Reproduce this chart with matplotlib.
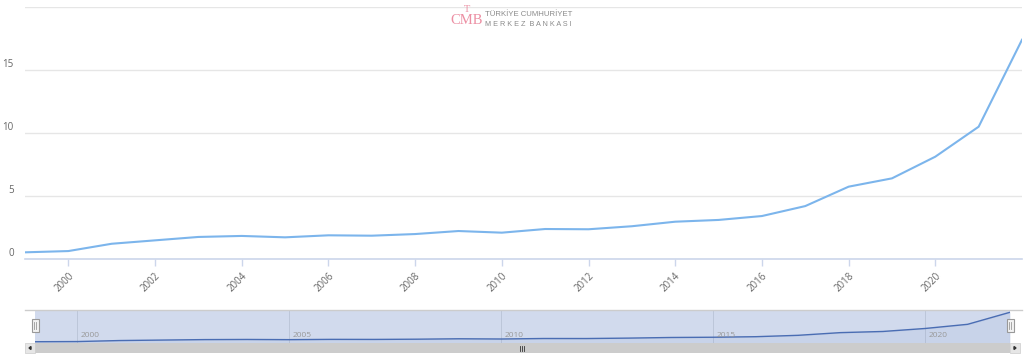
import matplotlib.pyplot as plt
from matplotlib.patches import Rectangle, Polygon

plt.rcParams['font.family'] = ['Open Sans', 'DejaVu Sans']

years = list(range(1999, 2023))
values = [0.53, 0.63, 1.21, 1.48, 1.75, 1.83, 1.72, 1.88, 1.85, 1.98, 2.22, 2.09,
          2.38, 2.36, 2.60, 2.96, 3.10, 3.41, 4.20, 5.74, 6.40, 8.12, 10.50, 17.40]
x_ticks = list(range(2000, 2021, 2))
y_ticks = [0, 5, 10, 15]
nav_ticks = [2000, 2005, 2010, 2015, 2020]

W, H = 1024, 355


def box(left, top, right, bottom):
    # pixel box -> figure rect
    return [left / W, 1 - bottom / H, (right - left) / W, (bottom - top) / H]


fig = plt.figure(figsize=(W / 100, H / 100), dpi=100)

# main chart
ax = fig.add_axes(box(25, 7, 1022, 259))
ax.plot(years, values, color='#7cb5ec', lw=1.5, solid_joinstyle='round', zorder=3)
ax.set_xlim(1999, 2022)
ax.set_ylim(0, 20)
ax.set_yticks(y_ticks + [20])
ax.set_yticklabels([str(v) for v in y_ticks] + [''])
ax.set_xticks(x_ticks)
ax.set_xticklabels([str(v) for v in x_ticks], rotation=45, ha='right',
                   rotation_mode='anchor')
ax.grid(axis='y', color='#e6e6e6', lw=1)
for s in ['top', 'right', 'left']:
    ax.spines[s].set_visible(False)
ax.spines['bottom'].set_color('#ccd6eb')
ax.spines['bottom'].set_linewidth(1.2)
ax.tick_params(axis='x', colors='#ccd6eb', length=5, width=1, pad=3,
               labelcolor='#666666', labelsize=7)
ax.tick_params(axis='y', length=0, pad=8, labelcolor='#666666', labelsize=7)
for lbl in ax.get_yticklabels():
    lbl.set_verticalalignment('bottom')

# navigator
nav = fig.add_axes(box(35, 310, 1010, 343))
nav.set_facecolor('#d1daed')
nav.plot(years, values, color='#4a6db3', lw=1, zorder=3)
nav.fill_between(years, values, -1, color='#335cad', alpha=0.05, zorder=2)
nav.set_xlim(1999, 2022)
nav.set_ylim(-0.2, 18.7)
nav.set_xticks(nav_ticks)
nav.set_xticklabels([])
nav.set_yticks([])
nav.grid(axis='x', color='#b9c3d6', lw=0.6)
for s in nav.spines.values():
    s.set_visible(False)
nav.tick_params(length=0)
for t in nav_ticks:
    nav.text(t + 0.08, 0.12, str(t), transform=nav.get_xaxis_transform(),
             fontsize=6, color='#999999', ha='left', va='bottom')

# overlay for navigator outline, handles, scrollbar, logo
ov = fig.add_axes([0, 0, 1, 1], zorder=10)
ov.set_xlim(0, W)
ov.set_ylim(H, 0)
ov.axis('off')
ov.patch.set_alpha(0)

ov.plot([25, 1022], [310, 310], color='#cccccc', lw=1)

# scrollbar
ov.add_patch(Rectangle((35, 343), 975, 10, facecolor='#cccccc', edgecolor='none'))
ov.add_patch(Rectangle((25, 343), 10, 10, facecolor='#e6e6e6', edgecolor='#cccccc', lw=0.5))
ov.add_patch(Rectangle((1010, 343), 10, 10, facecolor='#e6e6e6', edgecolor='#cccccc', lw=0.5))
ov.add_patch(Polygon([(31, 346.5), (31, 349.5), (29, 348)], color='#333333'))
ov.add_patch(Polygon([(1014, 346.5), (1014, 349.5), (1016, 348)], color='#333333'))
for dx in (-2, 0, 2):
    ov.plot([522 + dx, 522 + dx], [345.5, 350.5], color='#333333', lw=0.6)

# handles
for hx in (35, 1010):
    ov.add_patch(Rectangle((hx - 3.5, 319), 7, 13, facecolor='#f2f2f2',
                           edgecolor='#999999', lw=0.8))
    ov.plot([hx - 1, hx - 1], [322, 329], color='#999999', lw=0.6)
    ov.plot([hx + 1, hx + 1], [322, 329], color='#999999', lw=0.6)

# logo
ov.text(467, 10, 'T', color='#ec8fa3', fontsize=7.5, ha='center', va='center',
        family='Liberation Serif')
ov.text(467, 21, 'CMB', color='#ec8fa3', fontsize=10.5, ha='center', va='center',
        family='Liberation Serif')
ov.text(485, 15, 'TÜRKİYE CUMHURİYET', color='#8a8a8a', fontsize=5.6,
        ha='left', va='center', family='Liberation Sans')
ov.text(485, 24.5, 'M E R K E Z  B A N K A S I', color='#8a8a8a', fontsize=5.2,
        ha='left', va='center', family='Liberation Sans')

fig.savefig('out.png', dpi=100)
